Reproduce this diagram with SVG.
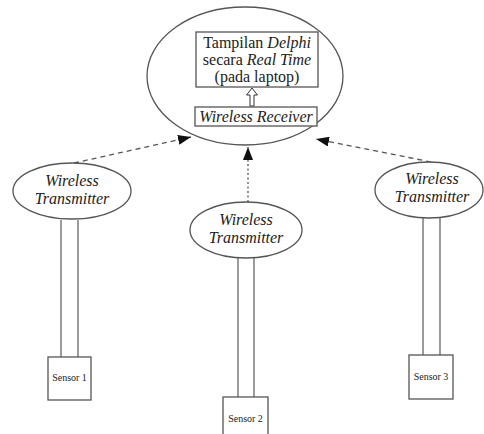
<svg xmlns="http://www.w3.org/2000/svg" width="484" height="434" viewBox="0 0 484 434">
<style>
.sh{fill:#fff;stroke:#555;stroke-width:1.3}
.cable{fill:none;stroke:#666;stroke-width:1.3}
.t{font-family:"Liberation Serif","Times New Roman",serif;fill:#222;text-anchor:middle}
.big{font-size:16px}
.it{font-style:italic}
.sm{font-size:10px}
.dash{fill:none;stroke:#555;stroke-width:1.3;stroke-dasharray:5,4}
.dot{fill:none;stroke:#555;stroke-width:1.3;stroke-dasharray:2,2.5}
</style>
<defs>
<marker id="ah" markerUnits="userSpaceOnUse" markerWidth="14" markerHeight="10" refX="13" refY="5" orient="auto">
<path d="M0,0 L13,5 L0,10 Z" fill="#111"/>
</marker>
</defs>
<rect width="484" height="434" fill="#fff"/>
<g id="connectors">
<line class="dash" x1="74" y1="163" x2="191" y2="137" marker-end="url(#ah)"/>
<line class="dash" x1="431" y1="162" x2="316" y2="139" marker-end="url(#ah)"/>
<line class="dot" x1="248" y1="202" x2="248" y2="147" marker-end="url(#ah)"/>
<line class="cable" x1="61" y1="220" x2="61" y2="357"/>
<line class="cable" x1="78" y1="220" x2="78" y2="357"/>
<line class="cable" x1="238" y1="258" x2="238" y2="397"/>
<line class="cable" x1="254" y1="258" x2="254" y2="397"/>
<line class="cable" x1="423" y1="218" x2="423" y2="355"/>
<line class="cable" x1="440" y1="218" x2="440" y2="355"/>
</g>
<g id="laptop">
<ellipse class="sh" cx="245" cy="76" rx="98" ry="69"/>
<rect class="sh" x="196" y="32" width="122" height="55"/>
<text class="t big" x="257" y="48">Tampilan <tspan class="it">Delphi</tspan></text>
<text class="t big" x="257" y="65">secara <tspan class="it">Real Time</tspan></text>
<text class="t big" x="257" y="82">(pada laptop)</text>
<polygon points="252,88 257.5,95 254,95 254,106 250,106 250,95 246.5,95" fill="#fff" stroke="#333" stroke-width="1"/>
<rect class="sh" x="195" y="107" width="122" height="19"/>
<text class="t big it" x="256" y="121.5">Wireless Receiver</text>
</g>
<g id="tx1">
<ellipse class="sh" cx="72" cy="191" rx="59" ry="28"/>
<text class="t big it" x="72" y="186">Wireless</text>
<text class="t big it" x="72" y="204">Transmitter</text>
</g>
<g id="tx2">
<ellipse class="sh" cx="246" cy="230" rx="56" ry="28"/>
<text class="t big it" x="246" y="225">Wireless</text>
<text class="t big it" x="246" y="243">Transmitter</text>
</g>
<g id="tx3">
<ellipse class="sh" cx="429" cy="190" rx="54" ry="28"/>
<text class="t big it" x="432" y="184">Wireless</text>
<text class="t big it" x="432" y="202">Transmitter</text>
</g>
<g id="sensor1">
<rect class="sh" x="48" y="357" width="43" height="43"/>
<text class="t sm" x="69.5" y="381">Sensor 1</text>
</g>
<g id="sensor2">
<rect class="sh" x="223" y="397" width="45" height="45"/>
<text class="t sm" x="245.5" y="422">Sensor 2</text>
</g>
<g id="sensor3">
<rect class="sh" x="409" y="355" width="44" height="44"/>
<text class="t sm" x="431" y="380">Sensor 3</text>
</g>
</svg>
